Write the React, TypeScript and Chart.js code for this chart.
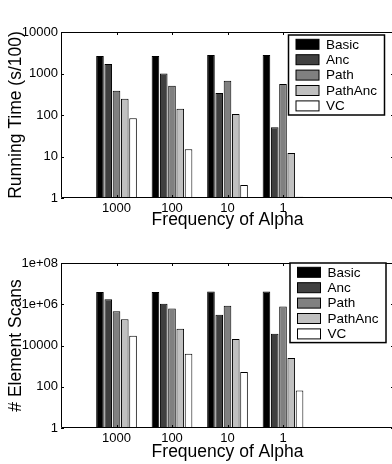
import React, { useEffect, useRef } from "react";
import { Chart, registerables } from "chart.js";

Chart.register(...registerables);

const categories = ["1000", "100", "10", "1"];
const seriesNames = ["Basic", "Anc", "Path", "PathAnc", "VC"];
const seriesColors = ["#000000", "#404040", "#808080", "#c0c0c0", "#ffffff"];

const timeBasic = [2630, 2630, 2790, 2790];
const timeAnc = [1700, 1000, 339, 51];
const timePath = [385, 510, 673, 560];
const timePathAnc = [246, 142, 106, 12.2];
const timeVC = [83, 15, 2.06, 1.07];

const scanBasic = [3.9e6, 3.9e6, 4.1e6, 4.1e6];
const scanAnc = [1.77e6, 1.05e6, 3.1e5, 3.7e4];
const scanPath = [4.6e5, 6.2e5, 8.4e5, 7.7e5];
const scanPathAnc = [1.9e5, 6.4e4, 2.04e4, 2450];
const scanVC = [29500, 4000, 515, 66];

const timeTicks = [1, 10, 100, 1000, 10000];
const timeTickLabels = ["1", "10", "100", "1000", "10000"];
const scanTicks = [1, 100, 1e4, 1e6, 1e8];
const scanTickLabels = ["1", "100", "10000", "1e+06", "1e+08"];

const FONT = "'Liberation Sans', Arial, Helvetica, sans-serif";
const CW = 398;
const CH = 232;

const paddedLabels = ["", ...categories, "", ""];
const pad = (arr: number[]) => [null, ...arr, null, null];

const boxPlugin = {
  id: "boxTicks",
  afterDatasetsDraw(chart: any) {
    const { ctx, chartArea } = chart;
    const { left, right, top, bottom } = chartArea;
    const xs = chart.scales.x;
    const ys = chart.scales.y;
    ctx.save();
    ctx.strokeStyle = "#000";
    ctx.lineWidth = 1;
    ctx.beginPath();
    ctx.rect(left + 0.5, top + 0.5, right - left - 1, bottom - top - 1);
    ctx.stroke();
    const tl = 3;
    ctx.beginPath();
    for (let i = 1; i <= categories.length; i++) {
      const x = Math.round(xs.getPixelForValue(i)) + 0.5;
      ctx.moveTo(x, top);
      ctx.lineTo(x, top + tl);
      ctx.moveTo(x, bottom);
      ctx.lineTo(x, bottom - tl);
    }
    const tv = chart.options.plugins.boxTicks.yTicks as number[];
    tv.forEach((v) => {
      const y = Math.round(ys.getPixelForValue(v)) + 0.5;
      ctx.moveTo(left, y);
      ctx.lineTo(left + tl, y);
      ctx.moveTo(right, y);
      ctx.lineTo(right - tl, y);
    });
    ctx.stroke();
    ctx.restore();
  },
  afterDraw(chart: any) {
    const { ctx, chartArea } = chart;
    const o = chart.options.plugins.boxTicks;
    const bx = chartArea.right - o.legendRight - o.legendW;
    const by = chartArea.top + o.legendTop;
    ctx.save();
    ctx.fillStyle = "#fff";
    ctx.fillRect(bx, by, o.legendW, o.legendH);
    ctx.strokeStyle = "#000";
    ctx.lineWidth = 1.5;
    ctx.strokeRect(bx, by, o.legendW, o.legendH);
    ctx.font = `13.5px ${FONT}`;
    ctx.textBaseline = "middle";
    ctx.textAlign = "left";
    chart.data.datasets.forEach((ds: any, i: number) => {
      const cy = by + 9.3 + i * 15.4;
      ctx.fillStyle = ds.backgroundColor;
      ctx.fillRect(bx + 7.5, cy - 5, 23, 10);
      ctx.lineWidth = 1;
      ctx.strokeStyle = "#000";
      ctx.strokeRect(bx + 7.5, cy - 5, 23, 10);
      ctx.fillStyle = "#000";
      ctx.fillText(ds.label, bx + 37.5, cy + 0.5);
    });
    ctx.restore();
  },
};

function makeConfig(
  series: number[][],
  yMax: number,
  ticks: number[],
  tickLabels: string[],
  yTitle: string,
  topPad: number,
  xHeight: number,
  legend: { legendRight: number; legendTop: number; legendW: number; legendH: number }
): any {
  return {
    type: "bar",
    data: {
      labels: paddedLabels,
      datasets: series.map((vals, i) => ({
        label: seriesNames[i],
        data: pad(vals),
        backgroundColor: seriesColors[i],
        borderColor: "#000",
        borderWidth: 1,
        categoryPercentage: 0.745,
        barPercentage: 0.92,
      })),
    },
    options: {
      responsive: false,
      animation: false,
      layout: { padding: { top: topPad, right: CW - 394, left: 0, bottom: 0 } },
      plugins: {
        legend: { display: false },
        tooltip: { enabled: false },
        boxTicks: { yTicks: ticks, ...legend },
      },
      scales: {
        x: {
          type: "category",
          offset: false,
          grid: { display: false, drawTicks: false },
          border: { display: false },
          ticks: {
            padding: 3,
            color: "#000",
            font: { family: FONT, size: 13 },
            maxRotation: 0,
            autoSkip: false,
          },
          title: {
            display: true,
            text: "Frequency of Alpha",
            color: "#000",
            font: { family: FONT, size: 17.5 },
            padding: { top: 0, bottom: 1 },
          },
          afterFit: (s: any) => {
            s.height = xHeight;
          },
        },
        y: {
          type: "logarithmic",
          min: 1,
          max: yMax,
          grid: { display: false, drawTicks: false },
          border: { display: false },
          afterBuildTicks: (s: any) => {
            s.ticks = ticks.map((v) => ({ value: v }));
          },
          ticks: {
            padding: 3,
            color: "#000",
            font: { family: FONT, size: 13 },
            callback: (v: number) => {
              const k = ticks.indexOf(v);
              return k >= 0 ? tickLabels[k] : "";
            },
          },
          title: {
            display: true,
            text: yTitle,
            color: "#000",
            font: { family: FONT, size: 17.5 },
            padding: { top: 6, bottom: 0 },
          },
          afterFit: (s: any) => {
            s.width = 61;
          },
        },
      },
    },
    plugins: [boxPlugin],
  };
}

function BarChart({ config, top }: { config: any; top: number }) {
  const ref = useRef<HTMLCanvasElement>(null);
  useEffect(() => {
    if (!ref.current) return;
    const chart = new Chart(ref.current, config);
    return () => chart.destroy();
  }, [config]);
  return (
    <canvas
      ref={ref}
      width={CW}
      height={CH}
      style={{ position: "absolute", left: 0, top, width: CW, height: CH, display: "block" }}
    />
  );
}

const timeConfig = makeConfig(
  [timeBasic, timeAnc, timePath, timePathAnc, timeVC],
  10000,
  timeTicks,
  timeTickLabels,
  "Running Time (s/100)",
  32,
  34,
  { legendRight: 9.5, legendTop: 3, legendW: 96, legendH: 80 }
);

const scanConfig = makeConfig(
  [scanBasic, scanAnc, scanPath, scanPathAnc, scanVC],
  1e8,
  scanTicks,
  scanTickLabels,
  "# Element Scans",
  31,
  36,
  { legendRight: 8, legendTop: 0, legendW: 96, legendH: 79.6 }
);

export default function App() {
  return (
    <div
      style={{
        position: "absolute",
        left: 0,
        top: 0,
        width: 392,
        height: 464,
        overflow: "hidden",
        background: "#fff",
      }}
    >
      <BarChart config={timeConfig} top={0} />
      <BarChart config={scanConfig} top={232} />
    </div>
  );
}
